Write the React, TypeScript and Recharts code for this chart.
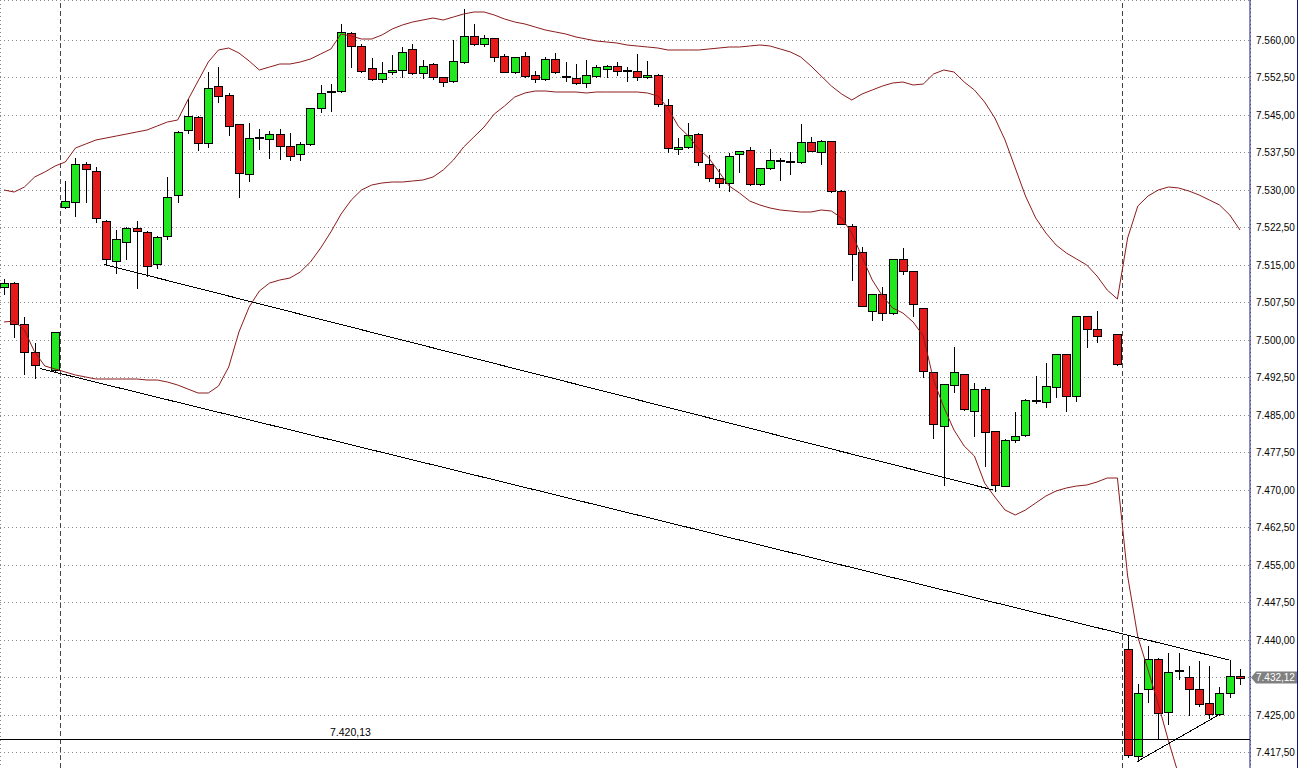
import {
  ComposedChart,
  Bar,
  Line,
  XAxis,
  YAxis,
  CartesianGrid,
  ReferenceLine,
} from 'recharts';

// candle values per slot (null = empty slot)
const opens = [
  7510.6, 7511.3, 7503.1, 7497.7, null, 7494.0, 7526.5, 7527.7, 7535.1, 7533.9,
  7523.9, 7515.9, 7519.7, 7522.3, 7521.7, 7515.1, 7520.9, 7529.0, 7542.0, 7544.7,
  7539.3, 7550.8, 7549.0, 7543.1, 7533.1, 7540.3, 7540.2, 7541.1, 7538.9, 7537.1,
  7539.1, 7546.3, 7549.5, 7549.8, 7561.3, 7558.9, 7554.3, 7552.1, 7553.5, 7554.0,
  7558.1, 7553.3, 7555.1, 7552.5, 7551.8, 7555.5, 7560.8, 7559.1, 7560.3, 7556.9,
  7553.7, 7556.8, 7553.0, 7552.1, 7556.1, 7552.8, 7552.3, 7551.3, 7552.8, 7554.1,
  7554.8, 7553.9, 7553.9, 7552.5, 7553.0, 7547.0, 7538.1, 7538.5, 7541.2, 7535.2,
  7532.3, 7531.3, 7537.1, 7538.0, 7531.1, 7534.3, 7535.9, 7535.7, 7535.5, 7539.5,
  7537.7, 7539.8, 7529.9, 7522.9, 7517.5, 7505.8, 7509.1, 7505.3, 7516.1, 7513.8,
  7506.3, 7493.5, 7482.7, 7491.0, 7493.1, 7485.8, 7490.1, 7481.7, 7470.8, 7480.0,
  7481.0, 7487.7, 7487.5, 7490.7, 7497.1, 7488.9, 7504.8, 7502.1, null, 7501.1,
  7438.1, 7416.7, 7430.2, 7436.2, 7425.5, 7433.7, 7432.5, 7430.1, 7427.3, 7425.1,
  7429.3, 7432.7,
];
const highs = [
  7512.1, 7511.5, 7504.5, 7499.3, null, 7501.6, 7531.8, 7536.3, 7535.5, 7534.5,
  7524.0, 7522.0, 7522.7, 7523.9, 7521.8, 7520.8, 7532.5, 7541.8, 7548.2, 7544.8,
  7553.7, 7554.7, 7549.3, 7543.2, 7543.3, 7542.2, 7541.8, 7542.2, 7541.3, 7539.5,
  7546.4, 7551.0, 7551.2, 7563.1, 7561.5, 7559.2, 7556.3, 7555.5, 7557.0, 7558.7,
  7559.2, 7556.0, 7555.3, 7552.6, 7560.0, 7566.2, 7563.2, 7561.0, 7560.4, 7557.2,
  7556.6, 7557.5, 7553.8, 7556.5, 7557.3, 7555.5, 7555.2, 7556.0, 7555.0, 7555.0,
  7555.5, 7554.6, 7557.2, 7555.8, 7553.1, 7548.1, 7540.3, 7543.3, 7541.3, 7537.0,
  7534.2, 7537.3, 7537.9, 7538.5, 7534.4, 7538.1, 7536.4, 7537.7, 7543.1, 7540.5,
  7540.0, 7539.9, 7530.0, 7523.2, 7518.7, 7509.2, 7510.7, 7516.2, 7518.3, 7513.9,
  7506.4, 7493.6, 7491.2, 7498.7, 7493.2, 7491.3, 7490.5, 7481.9, 7480.1, 7485.5,
  7488.1, 7492.9, 7495.3, 7497.2, 7497.2, 7504.9, 7504.9, 7505.9, null, 7501.2,
  7441.0, 7431.2, 7438.8, 7436.3, 7437.3, 7437.3, 7434.7, 7435.9, 7434.7, 7430.5,
  7436.0, 7434.1,
];
const lows = [
  7509.2, 7500.7, 7493.1, 7492.3, null, 7493.8, 7526.4, 7524.9, 7527.7, 7523.5,
  7515.1, 7513.3, 7516.1, 7510.3, 7512.9, 7514.3, 7520.1, 7527.5, 7541.3, 7538.0,
  7538.7, 7547.7, 7541.0, 7528.7, 7531.8, 7538.1, 7536.3, 7536.1, 7536.0, 7536.0,
  7539.0, 7545.7, 7545.9, 7549.7, 7554.5, 7553.6, 7552.0, 7551.7, 7553.2, 7552.7,
  7553.2, 7552.3, 7552.1, 7550.9, 7551.7, 7555.4, 7559.0, 7558.8, 7555.8, 7553.6,
  7553.3, 7552.5, 7551.5, 7552.0, 7553.4, 7551.9, 7551.2, 7550.5, 7552.7, 7552.5,
  7553.0, 7551.9, 7552.0, 7552.4, 7546.9, 7537.7, 7537.1, 7538.4, 7535.0, 7531.9,
  7530.5, 7529.8, 7533.7, 7531.0, 7531.0, 7534.2, 7532.0, 7533.1, 7535.4, 7537.8,
  7535.2, 7529.7, 7523.1, 7512.0, 7506.8, 7504.0, 7504.0, 7505.2, 7513.2, 7504.8,
  7492.7, 7480.3, 7471.0, 7489.5, 7486.0, 7480.7, 7474.7, 7469.9, 7470.7, 7479.5,
  7480.7, 7487.3, 7486.5, 7488.5, 7485.7, 7487.9, 7498.5, 7499.5, null, 7495.0,
  7416.5, 7415.7, 7427.5, 7420.2, 7423.1, 7432.1, 7425.0, 7426.9, 7424.3, 7425.0,
  7428.5, 7431.2,
];
const closes = [
  7511.3, 7503.1, 7497.7, 7495.0, null, 7501.5, 7527.8, 7535.1, 7534.1, 7524.3,
  7516.1, 7520.1, 7522.3, 7521.9, 7514.9, 7520.7, 7528.5, 7541.7, 7544.9, 7539.3,
  7550.3, 7548.8, 7542.9, 7533.3, 7540.3, 7540.3, 7541.1, 7538.9, 7536.9, 7539.1,
  7546.3, 7549.3, 7549.5, 7561.5, 7558.9, 7553.8, 7552.1, 7553.3, 7554.0, 7557.5,
  7553.3, 7554.9, 7552.5, 7551.5, 7555.8, 7560.8, 7559.1, 7560.3, 7556.5, 7553.7,
  7556.5, 7552.9, 7552.1, 7556.1, 7553.5, 7552.5, 7551.3, 7553.0, 7554.5, 7554.9,
  7553.9, 7553.9, 7552.5, 7553.0, 7547.1, 7538.3, 7538.7, 7541.0, 7535.5, 7532.3,
  7531.3, 7536.8, 7537.8, 7531.1, 7534.3, 7536.0, 7535.9, 7535.7, 7539.7, 7537.9,
  7539.8, 7529.8, 7523.2, 7517.2, 7506.9, 7509.1, 7505.3, 7516.1, 7513.8, 7507.1,
  7493.8, 7483.1, 7491.1, 7493.5, 7486.2, 7490.1, 7481.5, 7471.0, 7480.0, 7480.8,
  7488.0, 7487.7, 7490.8, 7497.1, 7488.9, 7504.8, 7502.1, 7500.9, null, 7495.1,
  7417.0, 7429.3, 7436.2, 7425.3, 7433.5, 7433.7, 7430.1, 7427.1, 7425.1, 7429.3,
  7432.7, 7432.3,
];

// bollinger bands
const upperBand = [
  7530.0, 7529.6, 7530.6, 7532.6, 7533.6, 7534.8, 7535.6, 7538.4, 7539.2, 7540.0,
  7540.4, 7540.8, 7541.2, 7541.6, 7542.0, 7542.8, 7543.6, 7544.0, 7548.0, 7551.8,
  7555.6, 7558.0, 7558.4, 7557.4, 7555.8, 7554.0, 7554.6, 7555.2, 7555.2, 7555.6,
  7556.2, 7557.2, 7558.2, 7561.2, 7560.8, 7560.2, 7560.2, 7561.0, 7562.2, 7563.0,
  7563.6, 7564.0, 7564.4, 7564.0, 7564.6, 7565.2, 7565.6, 7565.6, 7565.0, 7564.2,
  7563.6, 7563.2, 7562.6, 7562.0, 7561.6, 7561.2, 7560.6, 7560.2, 7559.8, 7559.6,
  7559.4, 7559.0, 7558.8, 7558.6, 7558.4, 7558.0, 7558.0, 7558.0, 7558.0, 7558.2,
  7558.4, 7558.6, 7558.6, 7558.8, 7559.0, 7558.8, 7558.2, 7557.6, 7556.6, 7554.8,
  7552.8, 7550.8, 7549.2, 7548.0, 7549.2, 7550.0, 7550.8, 7551.4, 7551.6, 7551.0,
  7551.2, 7553.2, 7554.0, 7553.6, 7551.6, 7550.0, 7547.6, 7544.4, 7540.0, 7534.4,
  7528.8, 7524.4, 7521.4, 7519.0, 7517.4, 7516.2, 7515.0, 7512.8, 7510.0, 7508.2,
  7520.4, 7526.8, 7528.8, 7530.0, 7530.6, 7530.4, 7529.8, 7529.0, 7528.0, 7527.0,
  7525.0, 7522.0,
];
const lowerBand = [
  7503.6, 7503.8, 7502.0, 7497.6, 7494.8, 7494.2, 7493.6, 7493.0, 7492.6, 7492.2,
  7492.2, 7492.2, 7492.2, 7492.2, 7492.0, 7492.0, 7491.6, 7491.0, 7490.2, 7489.4,
  7489.4, 7490.8, 7494.6, 7501.6, 7506.6, 7509.8, 7511.4, 7512.0, 7512.4, 7513.6,
  7515.6, 7518.4, 7521.6, 7525.2, 7528.0, 7530.0, 7531.0, 7531.4, 7531.6, 7531.6,
  7531.8, 7532.0, 7532.6, 7534.0, 7536.0, 7538.6, 7540.6, 7542.6, 7545.2, 7546.8,
  7548.6, 7549.4, 7549.8, 7549.8, 7549.6, 7549.6, 7549.6, 7549.4, 7549.6, 7549.6,
  7549.6, 7549.6, 7549.6, 7549.4, 7548.8, 7546.4, 7542.8, 7540.8, 7538.2, 7536.4,
  7533.6, 7530.8, 7529.4, 7527.8, 7527.0, 7526.4, 7526.0, 7525.8, 7525.6, 7525.6,
  7526.0, 7525.8, 7524.4, 7521.4, 7516.6, 7512.0, 7508.8, 7506.4, 7505.4, 7503.6,
  7500.8, 7492.0, 7486.6, 7482.0, 7478.8, 7476.8, 7471.4, 7468.6, 7466.0, 7465.0,
  7466.0, 7467.4, 7468.8, 7469.8, 7470.4, 7470.8, 7471.0, 7471.6, 7472.4, 7472.4,
  7452.8, 7440.6, 7434.0, 7427.2, 7419.8, 7413.0, 7407.0, 7402.0, 7397.6, 7393.6,
  7390.0, 7387.0,
];

const priceTicks = [
  7417.5, 7425, 7432.5, 7440, 7447.5, 7455, 7462.5, 7470, 7477.5, 7485,
  7492.5, 7500, 7507.5, 7515, 7522.5, 7530, 7537.5, 7545, 7552.5, 7560,
];
const gridSlots = [4, 12, 18, 24, 30, 36, 42, 48, 54, 60, 66, 72, 78, 84, 90, 96, 102, 108, 116];
const sessionBreaks = [5.5, 109.5];
const supportLevel = 7420.13;
const lastPrice = 7432.12;
const trendLines = [
  [{ x: 9.82, y: 7515.1 }, { x: 96.85, y: 7470.0 }],
  [{ x: 3.52, y: 7494.3 }, { x: 119.92, y: 7436.0 }],
  [{ x: 110.94, y: 7415.7 }, { x: 118.97, y: 7425.1 }],
];

const data = opens.map((o, i) => ({
  slot: i,
  open: o,
  high: highs[i],
  low: lows[i],
  close: closes[i],
  upper: upperBand[i],
  lower: lowerBand[i],
}));

const UP = '#1fe81f';
const DOWN = '#e51b1b';
const FONT = '"Liberation Sans", Arial, sans-serif';

function formatPrice(v: number) {
  const [int, dec] = v.toFixed(2).split('.');
  return int.replace(/\B(?=(\d{3})+(?!\d))/g, '.') + ',' + dec;
}

// the last-price tag sits over the nearest axis label
function formatTick(v: number) {
  if (Math.abs(v - lastPrice) < 3) return '';
  return formatPrice(v);
}

function Candle(props: any) {
  const { x, y, width, height, payload } = props;
  if (!payload || payload.open == null) return null;
  const { open, close, high, low } = payload;
  const top = Math.min(y, y + height);
  const h = Math.abs(height);
  const toY = (v: number) => top + ((high - v) / (high - low)) * h;
  const c = Math.round(x + width / 2);
  const yHigh = Math.round(toY(high));
  const yLow = Math.round(toY(low));
  const yTop = Math.round(toY(Math.max(open, close)));
  const yBot = Math.round(toY(Math.min(open, close)));
  const doji = Math.abs(open - close) < 0.15;

  return (
    <g>
      <line x1={c + 0.5} x2={c + 0.5} y1={yHigh} y2={yLow + 1} stroke="#000" strokeWidth={1} />
      {doji ? (
        <rect x={c - 4} y={yTop - 1} width={9} height={2} fill="#000" />
      ) : (
        <rect
          x={c - 3.5}
          y={yTop + 0.5}
          width={8}
          height={Math.max(yBot - yTop, 1)}
          fill={close > open ? UP : DOWN}
          stroke="#000"
          strokeWidth={1}
        />
      )}
    </g>
  );
}

function LevelLabel(props: any) {
  const { viewBox } = props;
  if (!viewBox) return null;
  return (
    <text x={viewBox.x + 330} y={viewBox.y - 3} fontSize={10.5} fontFamily={FONT} fill="#000">
      {formatPrice(supportLevel)}
    </text>
  );
}

function PriceTag(props: any) {
  const { viewBox } = props;
  if (!viewBox) return null;
  const x0 = viewBox.x + viewBox.width + 1;
  const yc = viewBox.y - 2;
  return (
    <g>
      <polygon
        points={`${x0},${yc} ${x0 + 5},${yc - 6} ${x0 + 46},${yc - 6} ${x0 + 46},${yc + 6} ${x0 + 5},${yc + 6}`}
        fill="#808080"
      />
      <text x={x0 + 5} y={yc + 3.5} fontSize={10} fontFamily={FONT} fill="#fff">
        {formatPrice(lastPrice)}
      </text>
    </g>
  );
}

export default function App() {
  return (
    <div
      style={{
        position: 'absolute',
        left: 0,
        top: 0,
        width: 1297,
        height: 768,
        overflow: 'hidden',
        borderRight: '1px solid #14147a',
        background: '#fff',
        fontFamily: FONT,
      }}
    >
      <ComposedChart
        width={1303}
        height={768}
        data={data}
        margin={{ top: 0, right: 0, bottom: 0, left: 0 }}
      >
        <CartesianGrid
          stroke="#8a8a8a"
          strokeDasharray="1 3"
          shapeRendering="crispEdges"
        />
        <XAxis
          dataKey="slot"
          type="number"
          domain={[-0.39, 121.98]}
          allowDataOverflow
          ticks={gridSlots}
          interval={0}
          height={0}
          tick={false}
          axisLine={false}
          tickLine={false}
        />
        <YAxis
          orientation="right"
          width={53}
          domain={[7414.4, 7568]}
          allowDataOverflow
          ticks={priceTicks}
          interval={0}
          tickFormatter={formatTick}
          tickLine={false}
          tickSize={0}
          tickMargin={6}
          axisLine={{ stroke: '#14147a' }}
          tick={{ fill: '#000', fontSize: 10, fontFamily: FONT }}
        />
        {sessionBreaks.map((s) => (
          <ReferenceLine
            key={s}
            x={s}
            stroke="#444"
            strokeDasharray="5 3"
            shapeRendering="crispEdges"
          />
        ))}
        <ReferenceLine
          y={supportLevel}
          stroke="#000"
          shapeRendering="crispEdges"
          label={<LevelLabel />}
        />
        <Line
          dataKey="upper"
          stroke="#8b1c1c"
          strokeWidth={1}
          dot={false}
          activeDot={false}
          isAnimationActive={false}
        />
        <Line
          dataKey="lower"
          stroke="#8b1c1c"
          strokeWidth={1}
          dot={false}
          activeDot={false}
          isAnimationActive={false}
        />
        {trendLines.map((seg, i) => (
          <ReferenceLine
            key={i}
            segment={seg}
            stroke="#000"
            ifOverflow="visible"
            shapeRendering="crispEdges"
          />
        ))}
        <Bar
          dataKey={(d: any) => (d.low == null ? null : [d.low, d.high])}
          barSize={8}
          shape={<Candle />}
          isAnimationActive={false}
        />
        <ReferenceLine y={lastPrice} stroke="none" label={<PriceTag />} />
      </ComposedChart>
    </div>
  );
}
